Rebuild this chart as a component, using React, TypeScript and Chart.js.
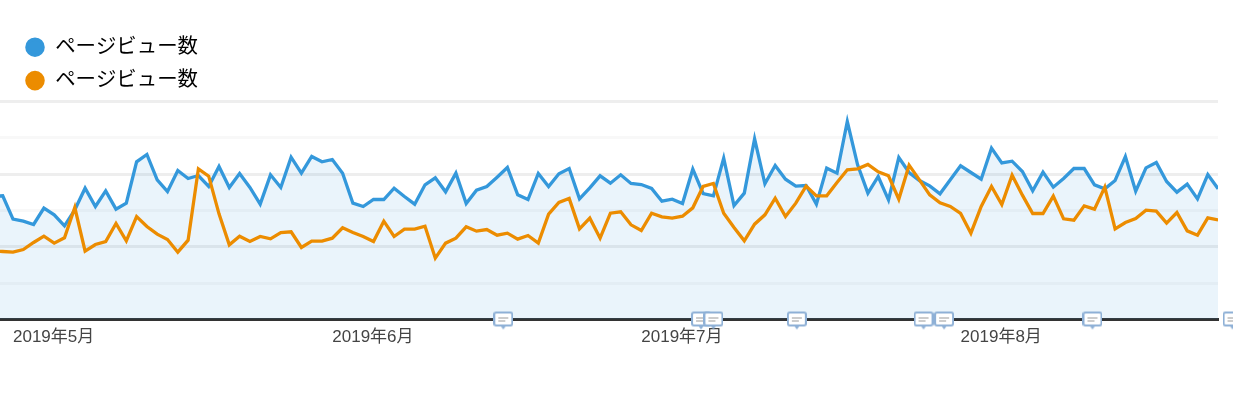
import React, { useEffect, useRef } from "react";
import { Chart, registerables } from "chart.js";

Chart.register(...registerables);

const seriesName = "ページビュー数";
const firstDay = -2; // day offset of the first value, relative to 1 May 2019
const blueViews = [
  369, 371, 301, 295, 285, 334, 314, 281, 329, 394, 339, 386, 331, 349, 473, 495, 419, 384, 447, 423,
  432, 399, 459, 396, 438, 396, 346, 434, 396, 487, 439, 489, 473, 480, 439, 349, 339, 360, 360, 394,
  369, 346, 404, 425, 383, 439, 348, 388, 399, 427, 456, 374, 360, 438, 399, 437, 453, 362, 395, 431,
  409, 434, 408, 405, 393, 355, 361, 348, 451, 378, 371, 484, 342, 379, 542, 407, 462, 421, 400, 402,
  346, 454, 439, 594, 464, 379, 429, 359, 486, 441, 417, 401, 377, 419, 461, 441, 421, 514, 470, 475,
  444, 386, 442, 397, 423, 453, 453, 404, 392, 417, 489, 385, 455, 471, 414, 382, 406, 362, 435, 392,
];
const orangeViews = [
  205, 204, 202, 210, 231, 250, 229, 245, 336, 205, 225, 234, 288, 236, 309, 279, 256, 240, 202, 238,
  452, 430, 317, 224, 250, 234, 249, 242, 261, 263, 216, 235, 235, 244, 275, 261, 249, 234, 295, 249,
  271, 271, 280, 184, 229, 244, 278, 265, 270, 253, 259, 241, 252, 229, 316, 351, 363, 272, 304, 244,
  319, 323, 284, 267, 319, 308, 304, 310, 335, 399, 408, 319, 276, 236, 286, 314, 364, 309, 349, 400,
  371, 371, 411, 449, 452, 465, 443, 431, 361, 463, 419, 374, 350, 339, 318, 259, 339, 399, 345, 433,
  373, 318, 318, 370, 302, 298, 341, 331, 397, 272, 291, 303, 328, 325, 289, 321, 266, 253, 305, 299,
];
const monthDays = [0, 31, 61, 92];
const monthLabels = ["2019年5月", "2019年6月", "2019年7月", "2019年8月"];
const noteDays = [47.6, 66.8, 68, 76.1, 88.4, 90.4, 104.8, 118.4];

const BLUE = "#3498db";
const ORANGE = "#ec8c00";

function noteIcon(): HTMLCanvasElement {
  const c = document.createElement("canvas");
  c.width = 20;
  c.height = 24;
  const g = c.getContext("2d")!;
  g.fillStyle = "#ffffff";
  g.strokeStyle = "#8eb0d6";
  g.lineWidth = 2;
  g.beginPath();
  g.roundRect(1, 5, 18, 13, 2);
  g.fill();
  g.stroke();
  g.fillStyle = "#8eb0d6";
  g.beginPath();
  g.moveTo(7, 18);
  g.lineTo(13, 18);
  g.lineTo(10, 22);
  g.closePath();
  g.fill();
  g.fillStyle = "#9a9a9a";
  g.fillRect(5, 10, 10, 1);
  g.fillRect(5, 13, 7, 1);
  return c;
}

// Lays the legend out in a narrow box so its two entries stack, and fixes its height.
const stackedLegend = {
  id: "stackedLegend",
  beforeLayout(chart: any) {
    const legend = chart.legend;
    if (!legend || legend.__stacked) return;
    legend.__stacked = true;
    const update = legend.update.bind(legend);
    legend.update = (_w: number, h: number, m: any) => {
      update(240, h, m);
      legend.height = 77.5;
    };
  },
  afterLayout(chart: any) {
    const legend = chart.legend;
    legend.left = 12;
    legend.right = 262;
    legend.width = 250;
  },
};

export default function App() {
  const ref = useRef<HTMLCanvasElement>(null);

  useEffect(() => {
    const chart = new Chart(ref.current!, {
      type: "line",
      plugins: [stackedLegend],
      data: {
        datasets: [
          {
            label: seriesName,
            data: blueViews.map((y, i) => ({ x: firstDay + i, y })),
            borderColor: BLUE,
            backgroundColor: BLUE,
            borderWidth: 3.3,
            pointRadius: 0,
            tension: 0,
            fill: { target: "origin", above: "rgba(52,152,219,0.105)" },
            order: 2,
          },
          {
            label: seriesName,
            data: orangeViews.map((y, i) => ({ x: firstDay + i, y })),
            borderColor: ORANGE,
            backgroundColor: ORANGE,
            borderWidth: 3.3,
            pointRadius: 0,
            tension: 0,
            fill: false,
            order: 1,
          },
          {
            label: "notes",
            data: noteDays.map((x) => ({ x, y: 0 })),
            showLine: false,
            pointStyle: noteIcon(),
            pointRadius: 18,
            clip: false,
            order: 0,
          },
        ],
      },
      options: {
        responsive: false,
        animation: false,
        layout: { autoPadding: false, padding: { top: 24, right: 15, left: 0, bottom: 0 } },
        plugins: {
          tooltip: { enabled: false },
          legend: {
            position: "top",
            align: "start",
            labels: {
              usePointStyle: true,
              pointStyle: "circle",
              boxWidth: 20,
              boxHeight: 11.5,
              padding: 13,
              color: "#000000",
              font: { family: "'Liberation Sans','Noto Sans CJK JP'", size: 20.4 },
              filter: (item) => item.datasetIndex !== 2,
              sort: (a, b) => a.datasetIndex - b.datasetIndex,
            },
          },
        },
        scales: {
          x: {
            type: "linear",
            min: -13 / 10.3,
            max: 1205 / 10.3,
            afterBuildTicks: (s) => {
              s.ticks = monthDays.map((value) => ({ value }));
            },
            afterFit: (s) => {
              s.height = 80.5;
              s.paddingLeft = 0;
              s.paddingRight = 0;
            },
            grid: { display: false },
            border: { color: "#333333", width: 3 },
            ticks: {
              autoSkip: false,
              maxRotation: 0,
              align: "start",
              padding: 0,
              color: "#444444",
              font: { family: "'Liberation Sans','Noto Sans CJK JP'", size: 17 },
              callback: (v) => monthLabels[monthDays.indexOf(Number(v))] ?? "",
            },
          },
          y: {
            min: 0,
            max: 654,
            afterBuildTicks: (s) => {
              s.ticks = [0, 109, 218, 327, 436, 545, 654].map((value) => ({ value }));
            },
            afterFit: (s) => {
              s.width = 0;
            },
            border: { display: false },
            ticks: { display: false },
            grid: {
              drawTicks: false,
              lineWidth: 3,
              color: (c) => (c.index % 2 === 0 ? "#eeeeee" : "#f8f8f8"),
            },
          },
        },
      },
    });
    return () => chart.destroy();
  }, []);

  return (
    <div style={{ position: "absolute", left: 0, top: 0, width: 1233, height: 400, background: "#fff" }}>
      <canvas ref={ref} width={1233} height={400} style={{ display: "block" }} />
    </div>
  );
}
